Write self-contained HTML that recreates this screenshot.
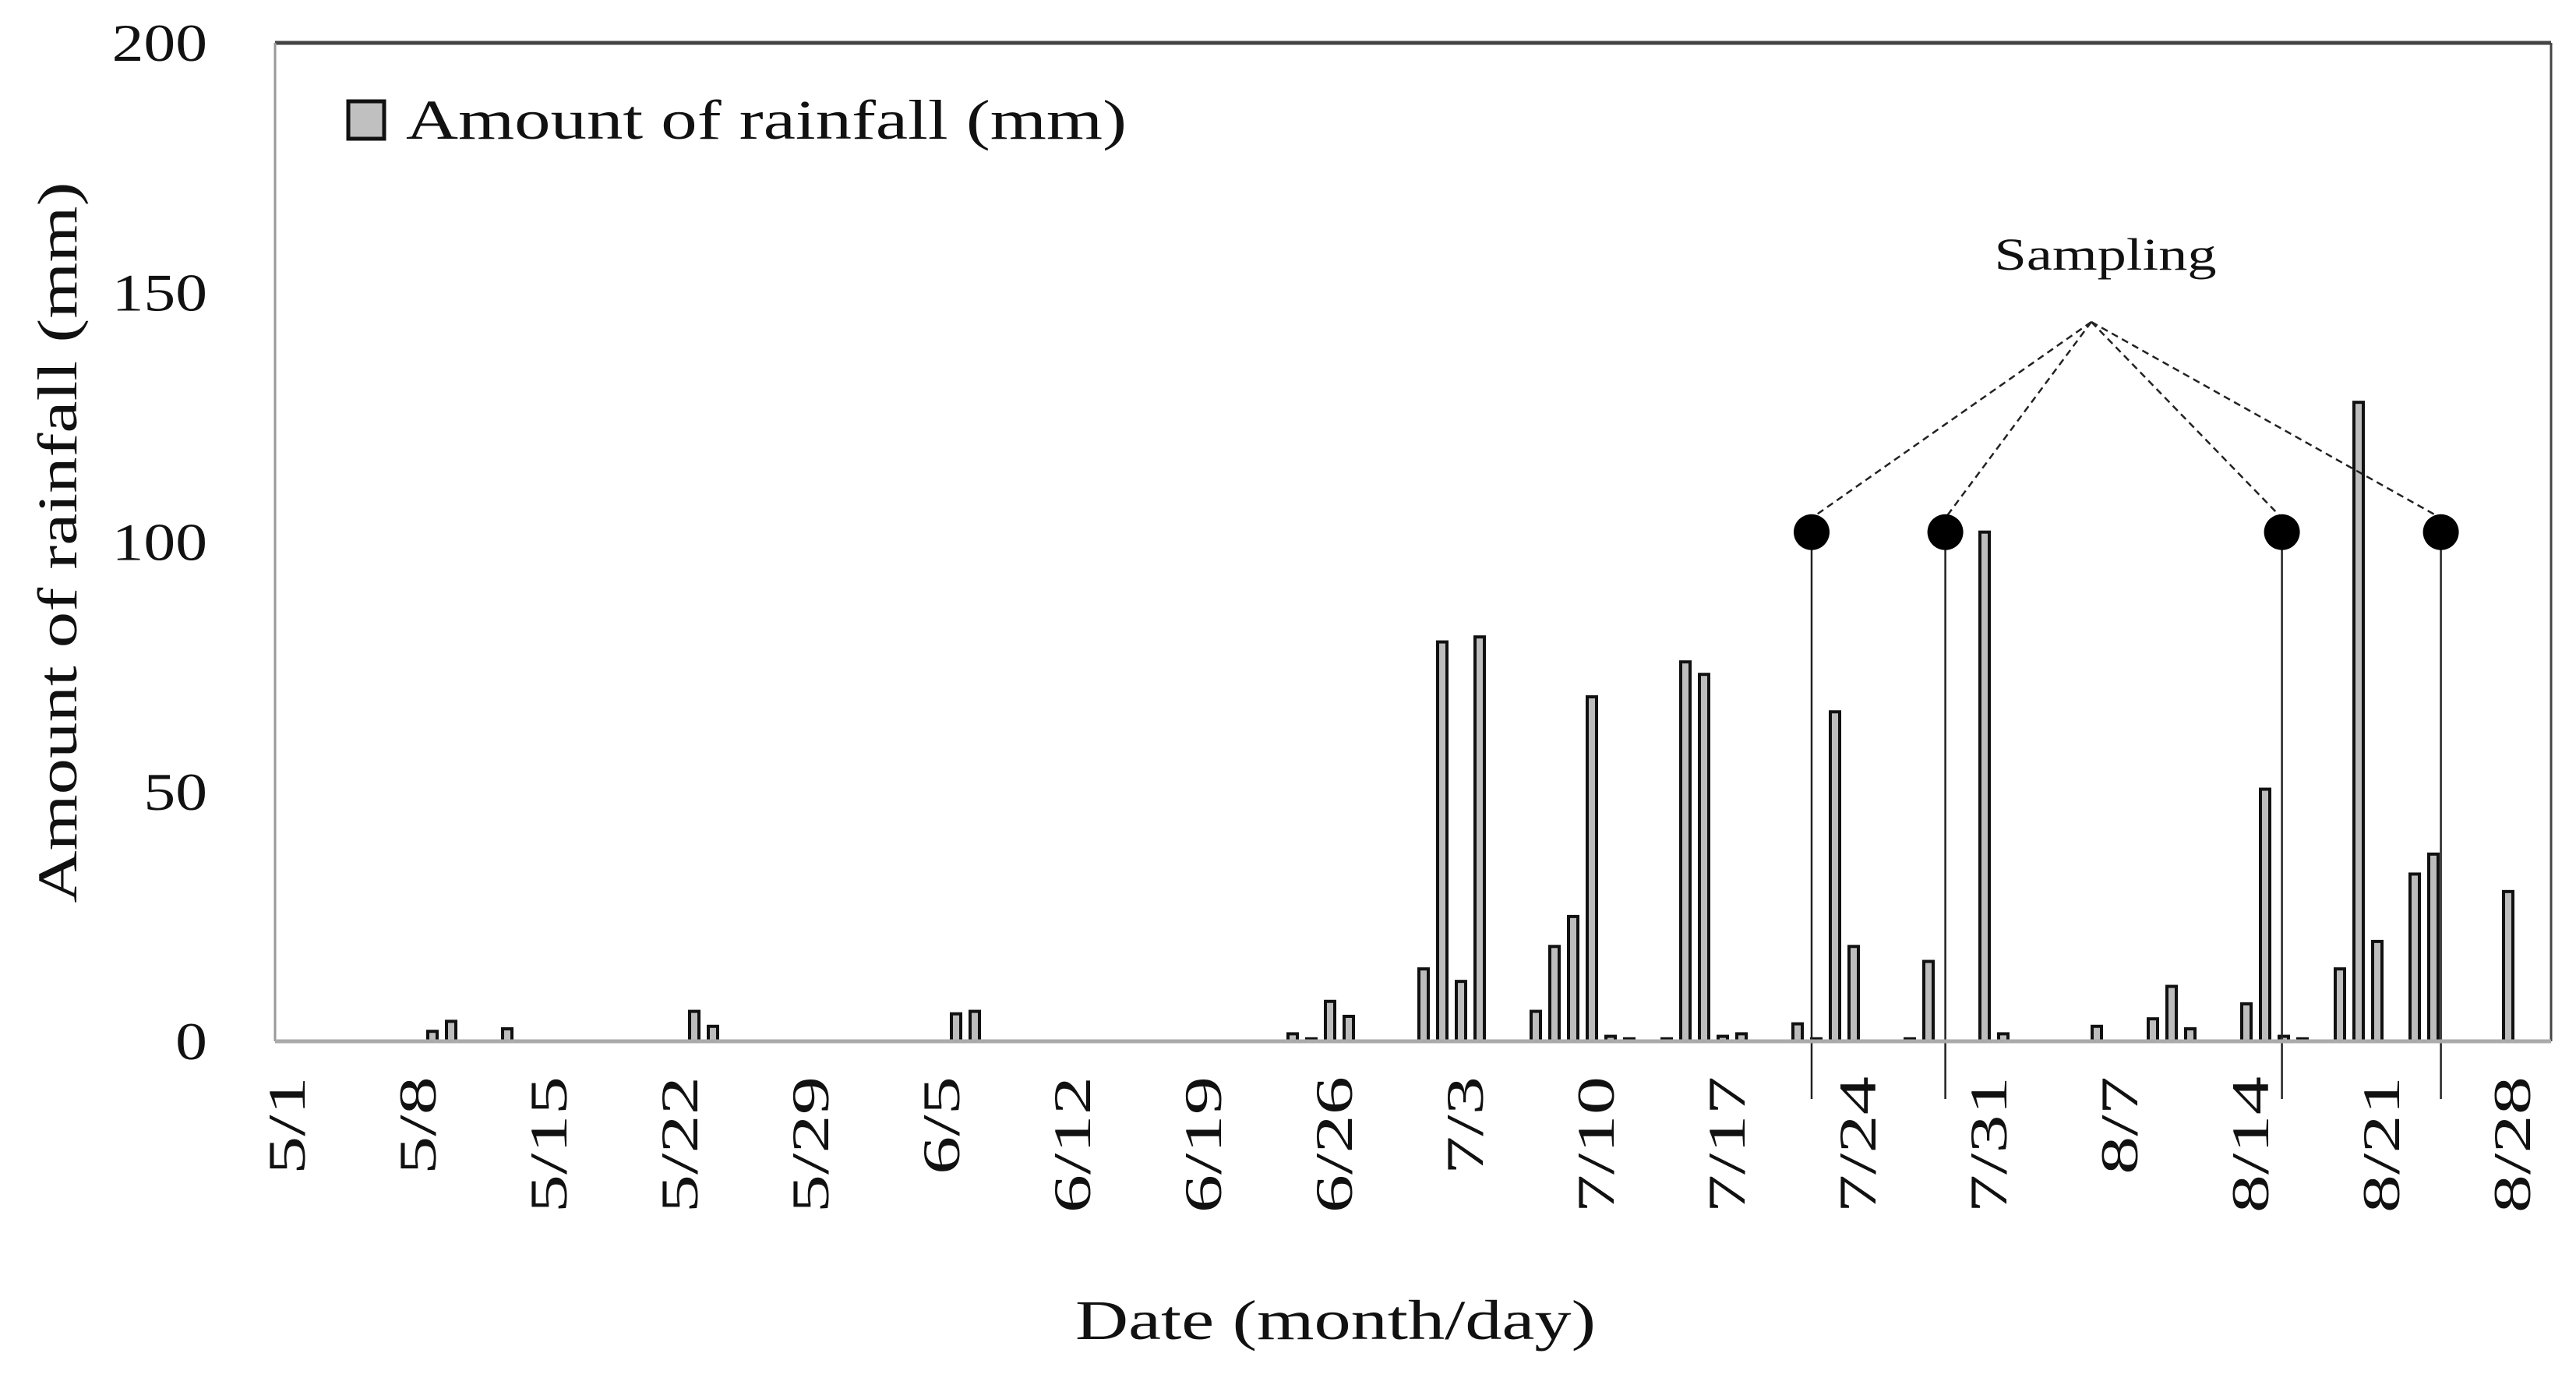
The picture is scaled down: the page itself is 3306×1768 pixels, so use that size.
<!DOCTYPE html>
<html><head><meta charset="utf-8"><style>
html,body{margin:0;padding:0;background:#fff;}
svg{display:block;font-family:"Liberation Serif",serif;}
</style></head><body>
<svg id="chart" width="3306" height="1768" viewBox="0 0 3306 1768" xmlns="http://www.w3.org/2000/svg">
<rect x="0" y="0" width="3306" height="1768" fill="#fff"/>
<g id="bars"></g>
<g id="samp"></g>
<g id="axes"></g>
<g>
<rect x="447" y="130" width="46" height="48" fill="#c0c0c0" stroke="#111" stroke-width="5"/>
<text x="521" y="178" font-size="72" textLength="925" lengthAdjust="spacingAndGlyphs" fill="#111">Amount of rainfall (mm)</text>
</g>
<text transform="translate(98,696) rotate(-90)" text-anchor="middle" font-size="72" textLength="925" lengthAdjust="spacingAndGlyphs" fill="#111">Amount of rainfall (mm)</text>
<text x="1714" y="1718" text-anchor="middle" font-size="72" textLength="668" lengthAdjust="spacingAndGlyphs" fill="#111">Date (month/day)</text>
<text x="2702" y="346" text-anchor="middle" font-size="58" textLength="285" lengthAdjust="spacingAndGlyphs" fill="#111">Sampling</text>
</svg>
<script>
const rainDays = [8,9,12,22,23,36,37,54,55,56,57,61,62,63,64,67,68,69,70,71,72,74,75,76,77,78,81,82,83,84,87,88,91,92,97,100,101,102,105,106,107,108,110,111,112,114,115,119];
const rainValues = [2,4,2.5,6,3,5.5,6,1.5,0.5,8,5,14.5,80,12,81,6,19,25,69,1,0.5,0.5,76,73.5,1,1.5,3.5,0.5,66,19,0.5,16,102,1.5,3,4.5,11,2.5,7.5,50.5,1,0.5,14.5,128,20,33.5,37.5,30];
const tickDays = [0,7,14,21,28,35,42,49,56,63,70,77,84,91,98,105,112,119];
const tickLabels = ["5/1","5/8","5/15","5/22","5/29","6/5","6/12","6/19","6/26","7/3","7/10","7/17","7/24","7/31","8/7","8/14","8/21","8/28"];
const yTicks = [0,50,100,150,200];
const samplingDays = [81.75,88.9,106.9,115.4];
const samplingLevel = 102;

const NS = "http://www.w3.org/2000/svg";
const L = 353, R = 3274, T = 55, B = 1336;
function xLabel(d){ return 368 + 24.0*d; }
function xBar(d){ return 363 + 24.0*d; }
function y(v){ return B - (B - T) * v / 200; }
function mk(tag, attrs, parent){ const e = document.createElementNS(NS, tag); for (const k in attrs) e.setAttribute(k, attrs[k]); parent.appendChild(e); return e; }
function stretch(t, f){ const w = t.getComputedTextLength(); t.setAttribute('textLength', (w * f).toFixed(1)); t.setAttribute('lengthAdjust', 'spacingAndGlyphs'); }

const bars = document.getElementById('bars');
rainDays.forEach((d, i) => {
  const v = rainValues[i];
  const top = y(v);
  const r = mk('rect', {x: xBar(d) - 6, y: top, width: 12, height: Math.max(B - top, 1.5), fill: '#bdbdbd', stroke: '#111', 'stroke-width': 4}, bars);
  
  
});

const axes = document.getElementById('axes');
const topLine = mk('line', {x1: L, y1: T, x2: R, y2: T, stroke: '#444', 'stroke-width': 5}, axes);


const leftLine = mk('line', {x1: L, y1: T, x2: L, y2: B, stroke: '#999', 'stroke-width': 3}, axes);


const rightLine = mk('line', {x1: R, y1: T, x2: R, y2: B, stroke: '#444', 'stroke-width': 3}, axes);


const xAxis = mk('line', {x1: L, y1: B, x2: R, y2: B, stroke: '#aaa', 'stroke-width': 5}, axes);



yTicks.forEach(v => {
  const t = mk('text', {x: 266, y: y(v) + 23, 'text-anchor': 'end', 'font-size': 68, fill: '#111'}, axes);
  t.textContent = String(v);
  
  
  stretch(t, 1.2);
});

tickDays.forEach((d, i) => {
  const cx = xLabel(d) + 23;
  const t = mk('text', {transform: 'translate(' + cx + ',1381) rotate(-90)', 'text-anchor': 'end', 'font-size': 68, fill: '#111'}, axes);
  t.textContent = tickLabels[i];
  
  
  stretch(t, 1.45);
});

const samp = document.getElementById('samp');
const apex = {x: 2684, y: 413};
samplingDays.forEach(d => {
  const cx = xBar(d), cy = y(samplingLevel);
  const dl = mk('line', {x1: apex.x, y1: apex.y, x2: cx, y2: cy - 18, stroke: '#222', 'stroke-width': 2.5, 'stroke-dasharray': '9,6'}, samp);
  
  
  const vl = mk('line', {x1: cx, y1: cy, x2: cx, y2: 1410, stroke: '#222', 'stroke-width': 2.5}, samp);
  
  
  const c = mk('circle', {cx: cx, cy: cy, r: 23, fill: '#000'}, samp);
  
  
});
</script>
</body></html>
